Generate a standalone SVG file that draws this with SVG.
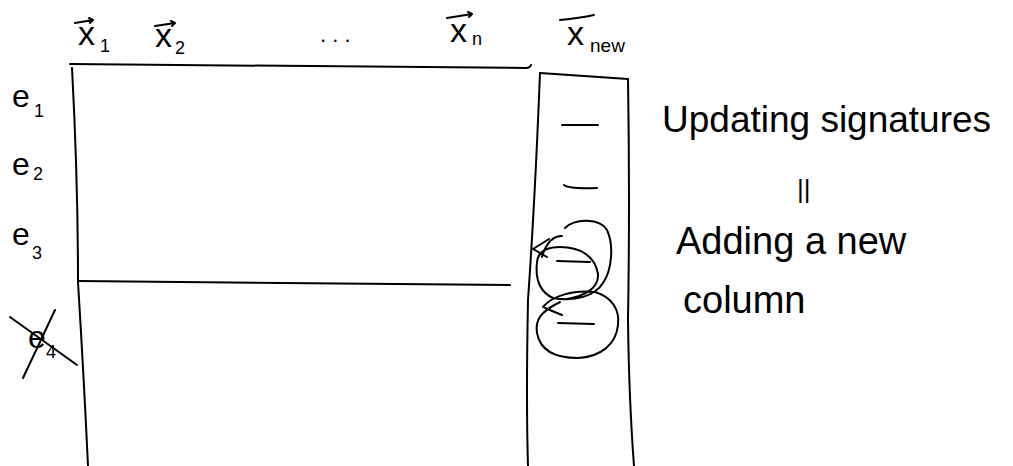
<svg xmlns="http://www.w3.org/2000/svg" width="1013" height="466" viewBox="0 0 1013 466">
<style>
.s{fill:none;stroke:#000;stroke-width:2;stroke-linecap:round;stroke-linejoin:round}
.t{font-family:"Liberation Sans","DejaVu Sans",sans-serif;fill:#000}
.sub{font-size:18px}
.big{font-size:38px}
</style>
<rect width="1013" height="466" fill="#fff"/>
<g id="matrix">
<path class="s" d="M70,64 Q300,66 526,68 Q530,68 531,65"/>
<path class="s" d="M72,68 Q78,180 78,282 Q84,380 88,466"/>
<path class="s" d="M78,281 Q300,283 510,285"/>
</g>
<g id="new-column">
<path class="s" d="M540,73 Q535,200 528,300 Q526,400 528,466"/>
<path class="s" d="M540,73 Q585,76 628,79"/>
<path class="s" d="M628,79 Q630,200 628,320 Q629,400 634,466"/>
<path class="s" d="M562,125 L598,125"/>
<path class="s" d="M564,185 Q568,189 597,188"/>
<path class="s" d="M557,261 L590,262"/>
<path class="s" d="M558,323 L594,324"/>
<path class="s" d="M565,228 C575,218 600,218 607,230 C614,245 612,270 603,283 C595,296 575,302 553,298 C540,292 535,280 537,262 C538,252 545,247 560,247 C580,247 595,256 598,274 C599,288 585,296 567,299"/>
<path class="s" d="M543,307 C552,296 572,290 595,292 C612,297 620,310 618,325 C616,345 600,357 578,358 C555,358 540,350 537,333 C535,320 540,312 560,302"/>
<path class="s" d="M545,308 L562,315"/>
<path class="s" d="M562,236 Q548,236 542,257"/>
<path class="s" d="M549,239 L533,249 L547,257"/>
</g>
<g id="column-labels">
<path class="s" d="M75,23 L93,20 M89,18 L93,20 L90,23"/>
<text class="t" x="78" y="45" font-size="34">x</text><text class="t sub" x="100" y="52">1</text>
<path class="s" d="M155,26 L175,23 M171,21 L175,23 L172,26"/>
<text class="t" x="155" y="47" font-size="34">x</text><text class="t sub" x="175" y="54">2</text>
<text class="t" x="320" y="42" font-size="22">. . .</text>
<path class="s" d="M447,18 L472,14 M468,12 L472,14 L469,17"/>
<text class="t" x="450" y="42" font-size="34">x</text><text class="t sub" x="472" y="45">n</text>
<path class="s" d="M560,20 Q580,18 594,15"/>
<text class="t" x="567" y="45" font-size="34">x</text><text class="t" x="590" y="52" font-size="19">new</text>
</g>
<g id="row-labels">
<text class="t" x="12" y="107" font-size="32">e</text><text class="t sub" x="34" y="117">1</text>
<text class="t" x="12" y="175" font-size="32">e</text><text class="t sub" x="33" y="180">2</text>
<text class="t" x="12" y="245" font-size="32">e</text><text class="t sub" x="32" y="259">3</text>
<text class="t" x="28" y="348" font-size="32">e</text><text class="t sub" x="46" y="358">4</text>
<path class="s" d="M10,317 L77,365"/>
<path class="s" d="M23,378 L55,310"/>
</g>
<g id="annotation">
<text class="t" x="662" y="132" font-size="37">Updating signatures</text>
<text class="t" x="797" y="198" font-size="26">||</text>
<text class="t big" x="676" y="254">Adding a new</text>
<text class="t big" x="683" y="313">column</text>
</g>
</svg>
